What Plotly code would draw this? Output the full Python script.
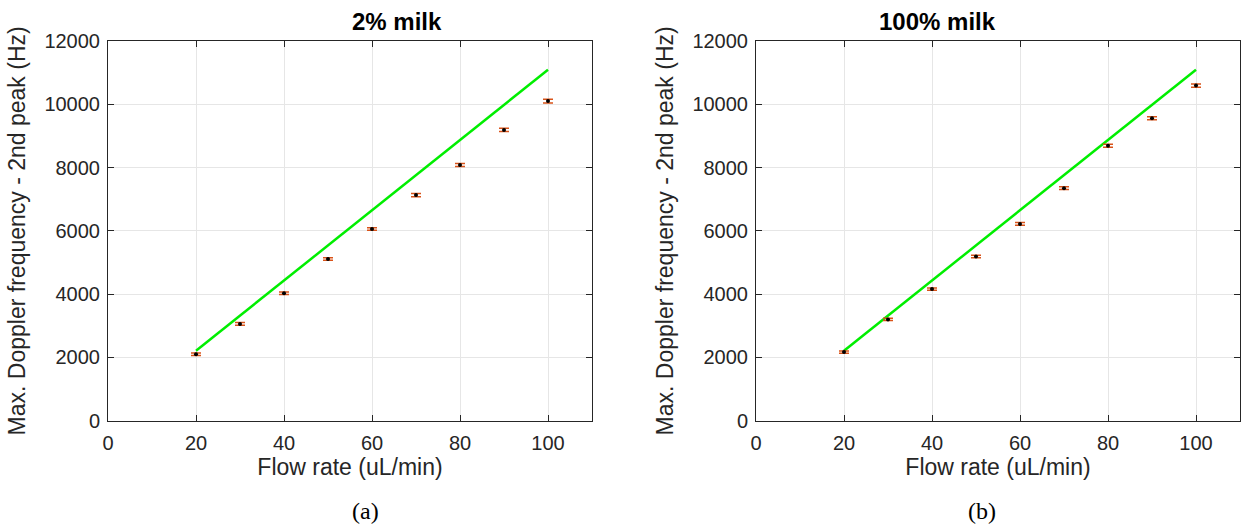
import plotly.graph_objects as go

flow = [20, 30, 40, 50, 60, 70, 80, 90, 100]
milk2 = [2100, 3060, 4030, 5110, 6060, 7130, 8080, 9190, 10100]
milk100 = [2170, 3200, 4160, 5190, 6220, 7350, 8690, 9560, 10590]
err2 = [40, 40, 40, 40, 40, 50, 50, 50, 60]
err100 = [35, 35, 35, 40, 40, 40, 45, 45, 50]
theory_x = [20, 100]
theory_y = [2210, 11090]

titles = ["2% milk", "100% milk"]
panel_labels = ["(a)", "(b)"]
x_ticks = [0, 20, 40, 60, 80, 100]
y_ticks = [0, 2000, 4000, 6000, 8000, 10000, 12000]

W, H = 1241, 528
fig = go.Figure()

for i, (yv, ev) in enumerate([(milk2, err2), (milk100, err100)]):
    xa = "x" if i == 0 else "x2"
    ya = "y" if i == 0 else "y2"
    fig.add_trace(go.Scatter(x=theory_x, y=theory_y, mode="lines",
                             line=dict(color="#00ee00", width=2.5),
                             xaxis=xa, yaxis=ya, showlegend=False))
    fig.add_trace(go.Scatter(x=flow, y=yv, mode="markers",
                             marker=dict(color="black", size=4),
                             error_y=dict(type="data", array=ev, visible=True,
                                          color="#D95319", thickness=1.5, width=5),
                             xaxis=xa, yaxis=ya, showlegend=False))

FONT = "Liberation Sans, Arial, sans-serif"
axis_common = dict(showline=True, linecolor="#262626", linewidth=1, mirror="ticks",
                   ticks="inside", ticklen=6, tickcolor="#262626", automargin=False,
                   showgrid=True, gridcolor="#e6e6e6", gridwidth=1, zeroline=False,
                   tickfont=dict(family=FONT, size=20, color="#262626"))
title_font = dict(family=FONT, size=23, color="#262626")

xdoms = [[108 / W, 592 / W], [756 / W, 1240 / W]]
ydom = [(H - 420.7) / H, (H - 41) / H]

layout_axes = {}
for i in range(2):
    sx = "" if i == 0 else "2"
    layout_axes["xaxis" + sx] = dict(domain=xdoms[i], range=[0, 110], tickvals=x_ticks,
                                     anchor="y" + sx, ticklabelstandoff=4,
                                     title=dict(text="Flow rate (uL/min)", standoff=4, font=title_font),
                                     **axis_common)
    layout_axes["yaxis" + sx] = dict(domain=ydom, range=[0, 12000], tickvals=y_ticks,
                                     tickformat="d", anchor="x" + sx, ticklabelstandoff=3,
                                     title=dict(text="Max. Doppler frequency - 2nd peak (Hz)",
                                                standoff=12, font=title_font),
                                     **axis_common)

fig.update_layout(width=W, height=H,
                  margin=dict(l=0, r=0, t=0, b=0, pad=0, autoexpand=False),
                  plot_bgcolor="white", paper_bgcolor="white", **layout_axes)

for i in range(2):
    cx = (xdoms[i][0] + xdoms[i][1]) / 2
    fig.add_annotation(x=cx, y=ydom[1], xref="paper", yref="paper", yanchor="bottom",
                       yshift=4, showarrow=False, text="<b>" + titles[i] + "</b>",
                       font=dict(family=FONT, size=24, color="black"))
    fig.add_annotation(x=cx, y=(H - 511) / H, xref="paper", yref="paper",
                       yanchor="middle", showarrow=False, text=panel_labels[i],
                       font=dict(family="Liberation Serif, serif", size=24, color="black"))

fig.write_html("out.html", config={"displayModeBar": False},
               post_script="document.body.style.margin='0';document.body.style.overflow='hidden';")
